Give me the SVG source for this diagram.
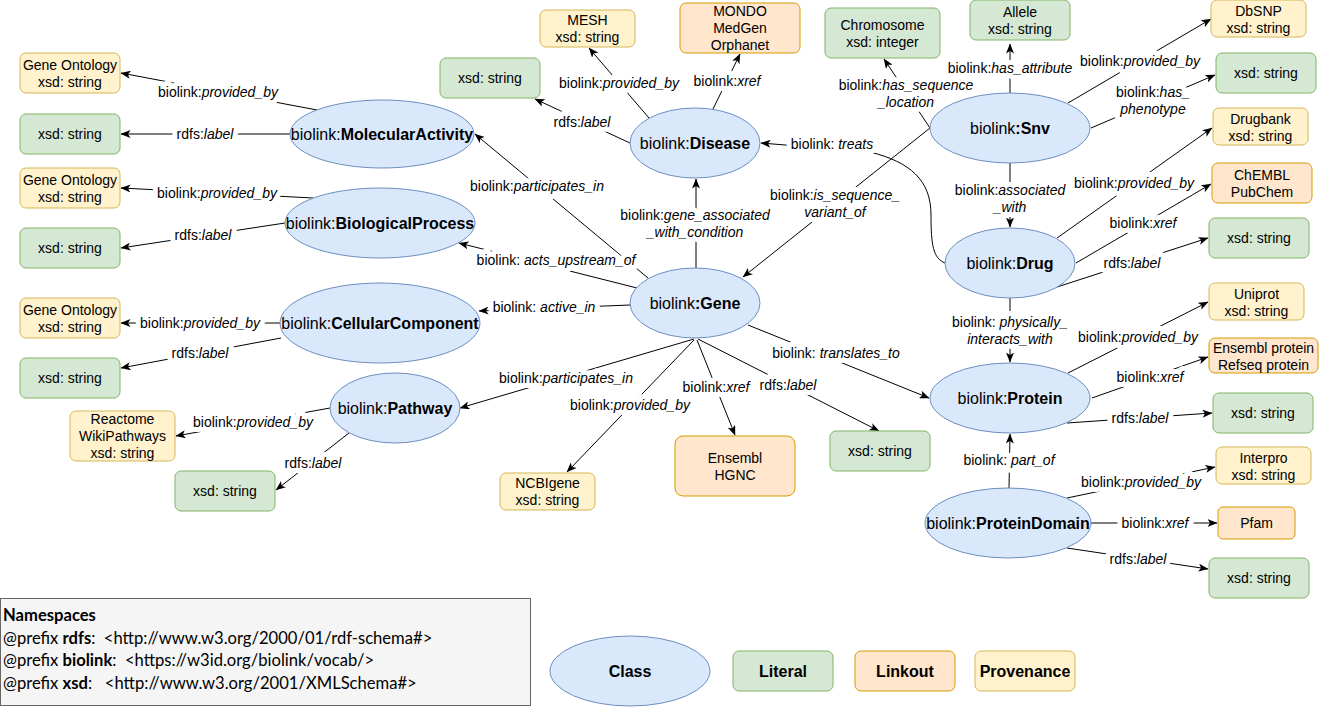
<svg xmlns="http://www.w3.org/2000/svg" xmlns:xlink="http://www.w3.org/1999/xlink" width="1319" height="707" viewBox="0 0 1319 707">
<style>
  text { font-family: "Liberation Sans", Arial, sans-serif; fill: #000; }
  .cls { fill: #dae8fc; stroke: #6c8ebf; stroke-width: 1; }
  .lit { fill: #d5e8d4; stroke: #82b366; stroke-width: 1; }
  .lnk { fill: #ffe6cc; stroke: #d79b00; stroke-width: 1; }
  .prv { fill: #fff2cc; stroke: #d6b656; stroke-width: 1; }
  .nt { font-size: 14px; text-anchor: middle; }
  .ct { font-size: 16px; text-anchor: middle; }
  .b { font-weight: bold; }
  .i { font-style: italic; }
  .e { fill: none; stroke: #000; stroke-width: 1; marker-end: url(#arr); }
  .lbl { font-size: 14px; text-anchor: middle; }
  .halo { stroke: #fff; stroke-width: 10px; stroke-linejoin: round; fill: #fff; }
  .ns { font-family: Lato, "Liberation Sans", sans-serif; font-size: 16.6px; }
</style>
<defs>
  <marker id="arr" viewBox="0 0 10 8" refX="9.5" refY="4" markerWidth="10" markerHeight="8" markerUnits="userSpaceOnUse" orient="auto">
    <path d="M0,0 L10,4 L0,8 L2.5,4 Z" fill="#000"/>
  </marker>
</defs>
<rect width="1319" height="707" fill="#fff"/>

<g id="connectors">
  <path class="e" d="M317,110 L121,73"/>
  <path class="e" d="M290,134 L121,134"/>
  <path class="e" d="M313,198 L121,188"/>
  <path class="e" d="M285,223 L121,248"/>
  <path class="e" d="M648,278 L475,134"/>
  <path class="e" d="M637,288 L459,243"/>
  <path class="e" d="M630,305 L479,311"/>
  <path class="e" d="M280,323 L121,323"/>
  <path class="e" d="M281,338 L121,368"/>
  <path class="e" d="M694,339 L460,408"/>
  <path class="e" d="M330,408 L176,436"/>
  <path class="e" d="M349,433 L276,490"/>
  <path class="e" d="M694,340 L567,472"/>
  <path class="e" d="M697,340 L735,435"/>
  <path class="e" d="M698,339 L879,431"/>
  <path class="e" d="M748,325 L929,398"/>
  <path class="e" d="M696,268 L696,179"/>
  <path class="e" d="M630,143 L535,99"/>
  <path class="e" d="M649,118 L589,48"/>
  <path class="e" d="M713,109 L740,54"/>
  <path class="e" d="M930,128 L743,277"/>
  <path class="e" d="M930,128 L884,59"/>
  <path class="e" d="M1010,93 L1010,44"/>
  <path class="e" d="M1068,103 L1211,19"/>
  <path class="e" d="M1091,128 L1215,75"/>
  <path class="e" d="M1010,163 L1010,227"/>
  <path class="e" d="M945,263 C933,258 931,245 931,215 C931,180 910,162 870,152 L761,143"/>
  <path class="e" d="M1057,238 L1212,128"/>
  <path class="e" d="M1076,263 L1211,184"/>
  <path class="e" d="M1057,287 L1208,238"/>
  <path class="e" d="M1010,298 L1010,362"/>
  <path class="e" d="M1068,373 L1208,302"/>
  <path class="e" d="M1092,398 L1208,357"/>
  <path class="e" d="M1067,423 L1212,413"/>
  <path class="e" d="M1009,488 L1010,434"/>
  <path class="e" d="M1067,498 L1215,467"/>
  <path class="e" d="M1091,523 L1217,523"/>
  <path class="e" d="M1067,548 L1208,569"/>

  <use class="halo" href="#edge-labels" xlink:href="#edge-labels"/>
  <g id="edge-labels">
  <text class="lbl" x="218" y="97">biolink:<tspan class="i">provided_by</tspan></text>
  <text class="lbl" x="205" y="139">rdfs:<tspan class="i">label</tspan></text>
  <text class="lbl" x="217" y="198">biolink:<tspan class="i">provided_by</tspan></text>
  <text class="lbl" x="203" y="240">rdfs:<tspan class="i">label</tspan></text>
  <text class="lbl" x="537" y="191">biolink:<tspan class="i">participates_in</tspan></text>
  <text class="lbl" x="556" y="265">biolink: <tspan class="i">acts_upstream_of</tspan></text>
  <text class="lbl" x="544" y="312">biolink: <tspan class="i">active_in</tspan></text>
  <text class="lbl" x="200" y="328">biolink:<tspan class="i">provided_by</tspan></text>
  <text class="lbl" x="200" y="358">rdfs:<tspan class="i">label</tspan></text>
  <text class="lbl" x="566" y="383">biolink:<tspan class="i">participates_in</tspan></text>
  <text class="lbl" x="253" y="427">biolink:<tspan class="i">provided_by</tspan></text>
  <text class="lbl" x="313" y="468">rdfs:<tspan class="i">label</tspan></text>
  <text class="lbl" x="630" y="410">biolink:<tspan class="i">provided_by</tspan></text>
  <text class="lbl" x="716" y="392">biolink:<tspan class="i">xref</tspan></text>
  <text class="lbl" x="788" y="390">rdfs:<tspan class="i">label</tspan></text>
  <text class="lbl" x="836" y="358">biolink: <tspan class="i">translates_to</tspan></text>
  <text class="lbl" x="695" y="220">biolink:<tspan class="i">gene_associated</tspan></text>
  <text class="lbl" x="695" y="237"><tspan class="i">_with_condition</tspan></text>
  <text class="lbl" x="582" y="127">rdfs:<tspan class="i">label</tspan></text>
  <text class="lbl" x="619" y="88">biolink:<tspan class="i">provided_by</tspan></text>
  <text class="lbl" x="727" y="86">biolink:<tspan class="i">xref</tspan></text>
  <text class="lbl" x="832" y="149">biolink: <tspan class="i">treats</tspan></text>
  <text class="lbl" x="835" y="200">biolink:<tspan class="i">is_sequence_</tspan></text>
  <text class="lbl" x="835" y="217"><tspan class="i">variant_of</tspan></text>
  <text class="lbl" x="906" y="90">biolink:<tspan class="i">has_sequence</tspan></text>
  <text class="lbl" x="906" y="107"><tspan class="i">_location</tspan></text>
  <text class="lbl" x="1010" y="73">biolink:<tspan class="i">has_attribute</tspan></text>
  <text class="lbl" x="1140" y="66">biolink:<tspan class="i">provided_by</tspan></text>
  <text class="lbl" x="1153" y="97">biolink:<tspan class="i">has_</tspan></text>
  <text class="lbl" x="1153" y="114"><tspan class="i">phenotype</tspan></text>
  <text class="lbl" x="1010" y="195">biolink:<tspan class="i">associated</tspan></text>
  <text class="lbl" x="1010" y="212"><tspan class="i">_with</tspan></text>
  <text class="lbl" x="1134" y="188">biolink:<tspan class="i">provided_by</tspan></text>
  <text class="lbl" x="1143" y="228">biolink:<tspan class="i">xref</tspan></text>
  <text class="lbl" x="1132" y="268">rdfs:<tspan class="i">label</tspan></text>
  <text class="lbl" x="1010" y="327">biolink: <tspan class="i">physically_</tspan></text>
  <text class="lbl" x="1010" y="344"><tspan class="i">interacts_with</tspan></text>
  <text class="lbl" x="1138" y="342">biolink:<tspan class="i">provided_by</tspan></text>
  <text class="lbl" x="1150" y="382">biolink:<tspan class="i">xref</tspan></text>
  <text class="lbl" x="1140" y="423">rdfs:<tspan class="i">label</tspan></text>
  <text class="lbl" x="1009" y="465">biolink: <tspan class="i">part_of</tspan></text>
  <text class="lbl" x="1141" y="487">biolink:<tspan class="i">provided_by</tspan></text>
  <text class="lbl" x="1155" y="528">biolink:<tspan class="i">xref</tspan></text>
  <text class="lbl" x="1138" y="564">rdfs:<tspan class="i">label</tspan></text>
  </g>
</g>

<!-- Class nodes -->
<g id="molecular-activity"><ellipse class="cls" cx="382" cy="134" rx="92" ry="34"/><text class="ct" x="382" y="140">biolink:<tspan class="b">MolecularActivity</tspan></text></g>
<g id="biological-process"><ellipse class="cls" cx="380" cy="223" rx="95" ry="35"/><text class="ct" x="380" y="229">biolink:<tspan class="b">BiologicalProcess</tspan></text></g>
<g id="cellular-component"><ellipse class="cls" cx="380" cy="323" rx="100" ry="40"/><text class="ct" x="380" y="329">biolink:<tspan class="b">CellularComponent</tspan></text></g>
<g id="pathway"><ellipse class="cls" cx="395" cy="408" rx="65" ry="35"/><text class="ct" x="395" y="414">biolink:<tspan class="b">Pathway</tspan></text></g>
<g id="disease"><ellipse class="cls" cx="695" cy="143" rx="65" ry="35"/><text class="ct" x="695" y="149">biolink:<tspan class="b">Disease</tspan></text></g>
<g id="gene"><ellipse class="cls" cx="695" cy="303" rx="65" ry="35"/><text class="ct" x="695" y="309">biolink<tspan class="b">:Gene</tspan></text></g>
<g id="snv"><ellipse class="cls" cx="1010" cy="128" rx="80" ry="35"/><text class="ct" x="1010" y="134">biolink<tspan class="b">:Snv</tspan></text></g>
<g id="drug"><ellipse class="cls" cx="1010" cy="263" rx="65" ry="35"/><text class="ct" x="1010" y="269">biolink:<tspan class="b">Drug</tspan></text></g>
<g id="protein"><ellipse class="cls" cx="1010" cy="398" rx="80" ry="35"/><text class="ct" x="1010" y="404">biolink:<tspan class="b">Protein</tspan></text></g>
<g id="protein-domain"><ellipse class="cls" cx="1008" cy="523" rx="83" ry="35"/><text class="ct" x="1008" y="529">biolink:<tspan class="b">ProteinDomain</tspan></text></g>

<!-- Left boxes -->
<g id="go-ma"><rect class="prv" x="20" y="53" width="100" height="40" rx="6"/><text class="nt" x="70" y="70">Gene Ontology</text><text class="nt" x="70" y="87">xsd: string</text></g>
<g id="ma-label"><rect class="lit" x="20" y="114" width="100" height="40" rx="6"/><text class="nt" x="70" y="139">xsd: string</text></g>
<g id="go-bp"><rect class="prv" x="20" y="168" width="100" height="40" rx="6"/><text class="nt" x="70" y="185">Gene Ontology</text><text class="nt" x="70" y="202">xsd: string</text></g>
<g id="bp-label"><rect class="lit" x="20" y="228" width="100" height="40" rx="6"/><text class="nt" x="70" y="253">xsd: string</text></g>
<g id="go-cc"><rect class="prv" x="20" y="298" width="100" height="40" rx="6"/><text class="nt" x="70" y="315">Gene Ontology</text><text class="nt" x="70" y="332">xsd: string</text></g>
<g id="cc-label"><rect class="lit" x="20" y="358" width="100" height="40" rx="6"/><text class="nt" x="70" y="383">xsd: string</text></g>
<g id="reactome"><rect class="prv" x="70" y="411" width="105" height="50" rx="6"/><text class="nt" x="122.5" y="424">Reactome</text><text class="nt" x="122.5" y="441">WikiPathways</text><text class="nt" x="122.5" y="458">xsd: string</text></g>
<g id="pathway-label"><rect class="lit" x="175" y="471" width="100" height="40" rx="6"/><text class="nt" x="225" y="496">xsd: string</text></g>

<!-- Middle boxes -->
<g id="disease-label"><rect class="lit" x="440" y="58" width="100" height="40" rx="6"/><text class="nt" x="490" y="83">xsd: string</text></g>
<g id="mesh"><rect class="prv" x="540" y="10" width="95" height="37" rx="6"/><text class="nt" x="587.5" y="25">MESH</text><text class="nt" x="587.5" y="42">xsd: string</text></g>
<g id="mondo"><rect class="lnk" x="680" y="3" width="120" height="50" rx="6"/><text class="nt" x="740" y="16">MONDO</text><text class="nt" x="740" y="33">MedGen</text><text class="nt" x="740" y="50">Orphanet</text></g>
<g id="chromosome"><rect class="lit" x="825" y="8" width="115" height="50" rx="6"/><text class="nt" x="882.5" y="30">Chromosome</text><text class="nt" x="882.5" y="47">xsd: integer</text></g>
<g id="ncbigene"><rect class="prv" x="500" y="473" width="95" height="37" rx="6"/><text class="nt" x="547.5" y="488">NCBIgene</text><text class="nt" x="547.5" y="505">xsd: string</text></g>
<g id="ensembl-hgnc"><rect class="lnk" x="675" y="436" width="120" height="60" rx="8"/><text class="nt" x="735" y="463">Ensembl</text><text class="nt" x="735" y="480">HGNC</text></g>
<g id="gene-label"><rect class="lit" x="830" y="431" width="100" height="40" rx="6"/><text class="nt" x="880" y="456">xsd: string</text></g>

<!-- Right boxes -->
<g id="allele"><rect class="lit" x="970" y="0" width="100" height="40" rx="6"/><text class="nt" x="1020" y="17">Allele</text><text class="nt" x="1020" y="34">xsd: string</text></g>
<g id="dbsnp"><rect class="prv" x="1211" y="0" width="95" height="37" rx="6"/><text class="nt" x="1258.5" y="16">DbSNP</text><text class="nt" x="1258.5" y="33">xsd: string</text></g>
<g id="snv-phenotype"><rect class="lit" x="1216" y="53" width="100" height="40" rx="6"/><text class="nt" x="1266" y="78">xsd: string</text></g>
<g id="drugbank"><rect class="prv" x="1213" y="108" width="95" height="37" rx="6"/><text class="nt" x="1260.5" y="124">Drugbank</text><text class="nt" x="1260.5" y="141">xsd: string</text></g>
<g id="chembl"><rect class="lnk" x="1212" y="163" width="100" height="40" rx="6"/><text class="nt" x="1262" y="180">ChEMBL</text><text class="nt" x="1262" y="197">PubChem</text></g>
<g id="drug-label"><rect class="lit" x="1209" y="218" width="100" height="40" rx="6"/><text class="nt" x="1259" y="243">xsd: string</text></g>
<g id="uniprot"><rect class="prv" x="1209" y="283" width="95" height="37" rx="6"/><text class="nt" x="1256.5" y="299">Uniprot</text><text class="nt" x="1256.5" y="316">xsd: string</text></g>
<g id="ensembl-protein"><rect class="lnk" x="1209" y="338" width="109" height="35" rx="6"/><text class="nt" x="1263.5" y="353">Ensembl protein</text><text class="nt" x="1263.5" y="370">Refseq protein</text></g>
<g id="protein-label"><rect class="lit" x="1213" y="393" width="100" height="40" rx="6"/><text class="nt" x="1263" y="418">xsd: string</text></g>
<g id="interpro"><rect class="prv" x="1216" y="447" width="95" height="37" rx="6"/><text class="nt" x="1263.5" y="463">Interpro</text><text class="nt" x="1263.5" y="480">xsd: string</text></g>
<g id="pfam"><rect class="lnk" x="1218" y="507" width="77" height="32" rx="5"/><text class="nt" x="1256.5" y="528">Pfam</text></g>
<g id="pd-label"><rect class="lit" x="1209" y="558" width="100" height="40" rx="6"/><text class="nt" x="1259" y="583">xsd: string</text></g>

<!-- Legend -->
<g id="namespaces">
  <rect x="0.5" y="598.5" width="530" height="107" fill="#f5f5f5" stroke="#666" stroke-width="1"/>
  <text class="ns b" x="3" y="621">Namespaces</text>
  <text class="ns" x="3" y="644" xml:space="preserve">@prefix <tspan class="b">rdfs</tspan>:  &lt;http://www.w3.org/2000/01/rdf-schema#&gt;</text>
  <text class="ns" x="3" y="666" xml:space="preserve">@prefix <tspan class="b">biolink</tspan>:  &lt;https://w3id.org/biolink/vocab/&gt;</text>
  <text class="ns" x="3" y="689" xml:space="preserve">@prefix <tspan class="b">xsd</tspan>:   &lt;http://www.w3.org/2001/XMLSchema#&gt;</text>
</g>
<g id="legend-class"><ellipse class="cls" cx="630" cy="671" rx="80" ry="35"/><text class="ct b" x="630" y="677">Class</text></g>
<g id="legend-literal"><rect class="lit" x="733" y="651" width="100" height="40" rx="6"/><text class="ct b" x="783" y="677">Literal</text></g>
<g id="legend-linkout"><rect class="lnk" x="855" y="651" width="100" height="40" rx="6"/><text class="ct b" x="905" y="677">Linkout</text></g>
<g id="legend-provenance"><rect class="prv" x="975" y="651" width="100" height="40" rx="6"/><text class="ct b" x="1025" y="677">Provenance</text></g>
</svg>
